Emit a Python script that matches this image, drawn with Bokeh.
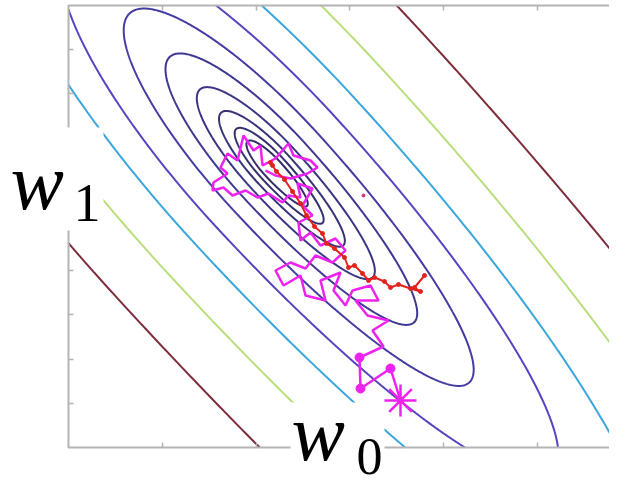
import numpy as np
from bokeh.plotting import figure
from bokeh.models import Range1d, Label
from bokeh.embed import file_html
from bokeh.resources import INLINE

# ---------------- data (w0, w1 parameter space) ----------------
w0_limits = [0.0, 55.6]
w1_limits = [0.0, 44.2]
w0_ticks = [9.4, 18.8, 28.1, 37.5, 46.9]
w1_ticks = [4.4, 8.8, 13.3, 17.7, 22.1, 26.5, 30.9, 35.4, 39.8]

# cost surface (minimum, long-axis direction,
# long/short ratio towards the upper-left and towards the lower-right)
cost_min = [20.4, 27.9]
cost_angle_deg = -47.4
cost_ratio_upper_left = 3.7
cost_ratio_lower_right = 5.1
# contour levels given as short semi-axis of each ellipse
contour_levels = [1.0, 1.45, 2.05, 2.9, 4.1, 5.7, 8.1, 10.8, 14.8, 20.2]
contour_colors = ["#312d64", "#33306e", "#363279", "#3a3585", "#3f3892",
                  "#453ca2", "#5446c0", "#3aa6dc", "#b9df7c", "#7d2d3c"]

# stochastic gradient descent path (magenta)
sgd_w0 = [33.2, 32.2, 29.2, 29.1, 31.5, 30.4, 32.0, 29.9, 28.7, 31.0,
          30.2, 28.4, 27.7, 26.5, 27.2, 25.2, 25.7, 23.7, 23.2, 21.5,
          20.7, 22.2, 23.7, 24.7, 26.4, 27.7, 26.7, 25.2, 24.2, 23.2,
          23.0, 24.4, 23.4, 24.4, 22.9, 23.2, 22.0, 21.4, 20.0, 18.9,
          17.7, 16.4, 15.5, 14.4, 14.5, 15.9, 15.2, 15.9, 16.9, 17.5,
          18.5, 19.2, 19.4, 20.7, 22.0, 22.5, 24.2, 24.9, 23.9, 22.2,
          20.7, 19.7]
sgd_w1 = [4.7, 7.9, 5.9, 9.0, 10.1, 11.7, 12.7, 13.2, 14.7, 14.7,
          16.2, 15.7, 14.2, 15.7, 17.5, 16.7, 14.7, 15.2, 17.2, 16.2,
          17.7, 18.5, 17.9, 19.2, 18.5, 19.7, 20.9, 20.2, 21.5, 20.7,
          22.5, 23.2, 24.2, 25.9, 26.4, 25.0, 25.2, 24.5, 25.4, 25.0,
          25.7, 25.2, 26.0, 25.7, 26.5, 27.4, 28.0, 29.4, 28.7, 31.2,
          29.7, 30.2, 28.2, 28.9, 30.4, 29.2, 28.7, 28.0, 27.4, 26.9,
          27.2, 27.7]
sgd_dot_w0 = [32.2, 29.2, 29.1]
sgd_dot_w1 = [7.9, 5.9, 9.0]

# mini-batch gradient descent path (red)
mb_w0 = [35.6, 34.6, 35.2, 34.2, 33.0, 32.2, 31.6, 30.6, 30.0, 29.4,
         28.6, 28.0, 27.6, 26.6, 25.8, 25.4, 24.6, 23.8, 23.2, 22.4,
         21.6, 20.8, 20.2, 20.4]
mb_w1 = [17.2, 16.0, 15.6, 15.9, 16.3, 16.0, 16.6, 17.0, 16.7, 17.4,
         18.2, 18.0, 19.0, 19.9, 20.4, 21.4, 22.1, 23.2, 24.4, 25.6,
         26.8, 27.6, 28.5, 28.2]
mb_stray_w0 = [29.5]
mb_stray_w1 = [25.2]

# label boxes (left, right, bottom, top) in w0/w1 units
w1_box = [-6.9, 3.5, 21.7, 32.0]
w0_box = [22.2, 31.6, -3.8, 4.5]

# ---------------- figure ----------------
p = figure(width=609, height=484, x_range=Range1d(-6.8, 54.1), y_range=Range1d(-3.7, 44.7),
           output_backend="svg", toolbar_location=None,
           x_axis_location=None, y_axis_location=None, min_border=0)
for g in p.grid:
    g.visible = False
p.background_fill_color = "white"
p.border_fill_color = "white"
p.outline_line_color = None

# cost surface
xs = np.linspace(w0_limits[0], w0_limits[1], 560)
ys = np.linspace(w1_limits[0], w1_limits[1], 445)
X, Y = np.meshgrid(xs, ys)
th = np.deg2rad(cost_angle_deg)
dx = X - cost_min[0]
dy = Y - cost_min[1]
u = dx * np.cos(th) + dy * np.sin(th)
v = -dx * np.sin(th) + dy * np.cos(th)
ratio = np.where(u > 0, cost_ratio_lower_right, cost_ratio_upper_left)
Z = np.sqrt((u / ratio) ** 2 + v ** 2)
p.contour(x=xs, y=ys, z=Z, levels=contour_levels, line_color=contour_colors, line_width=2)

# paths
p.line(sgd_w0, sgd_w1, line_color="#ee22ee", line_width=2.5)
p.scatter(sgd_dot_w0, sgd_dot_w1, size=9, fill_color="#ee22ee", line_color="#ee22ee")
p.scatter([sgd_w0[0]], [sgd_w1[0]], marker="asterisk", size=32, line_color="#ee22ee", line_width=2.5)

p.line(mb_w0, mb_w1, line_color="#e3221c", line_width=2)
p.scatter(mb_w0, mb_w1, size=4, fill_color="#e3221c", line_color="#e3221c")
p.scatter(mb_stray_w0, mb_stray_w1, size=3, fill_color="#e03070", line_color="#e03070")

# axes box and inward ticks
gray = "#b4b4b4"
p.quad(left=[w0_limits[0]], right=[w0_limits[1]], bottom=[w1_limits[0]], top=[w1_limits[1]],
       fill_color=None, line_color=gray, line_width=2)
tick_len = 0.5
p.segment(x0=[w0_limits[0]] * len(w1_ticks), x1=[w0_limits[0] + tick_len] * len(w1_ticks),
          y0=w1_ticks, y1=w1_ticks, line_color=gray, line_width=1.5)
p.segment(x0=[w0_limits[1]] * len(w1_ticks), x1=[w0_limits[1] - tick_len] * len(w1_ticks),
          y0=w1_ticks, y1=w1_ticks, line_color=gray, line_width=1.5)
p.segment(x0=w0_ticks, x1=w0_ticks, y0=[w1_limits[0]] * len(w0_ticks),
          y1=[w1_limits[0] + tick_len] * len(w0_ticks), line_color=gray, line_width=1.5)
p.segment(x0=w0_ticks, x1=w0_ticks, y0=[w1_limits[1]] * len(w0_ticks),
          y1=[w1_limits[1] - tick_len] * len(w0_ticks), line_color=gray, line_width=1.5)

# white label boxes
for b in (w1_box, w0_box):
    p.quad(left=[b[0]], right=[b[1]], bottom=[b[2]], top=[b[3]],
           fill_color="white", line_color=None)

font = "Liberation Serif"
p.add_layout(Label(x=-5.8, y=26.6, text="w", text_font=font, text_font_style="italic",
                   text_font_size="80px", text_color="black", text_baseline="alphabetic"))
p.add_layout(Label(x=0.5, y=24.5, text="1", text_font=font,
                   text_font_size="54px", text_color="black", text_baseline="alphabetic"))
p.add_layout(Label(x=22.3, y=1.5, text="w", text_font=font, text_font_style="italic",
                   text_font_size="80px", text_color="black", text_baseline="alphabetic"))
p.add_layout(Label(x=28.8, y=-0.9, text="0", text_font=font,
                   text_font_size="52px", text_color="black", text_baseline="alphabetic"))

open("out.html", "w").write(file_html(p, INLINE))
